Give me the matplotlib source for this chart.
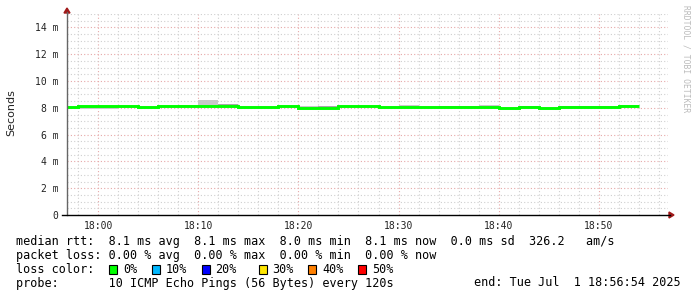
import matplotlib
matplotlib.use("Agg")
import matplotlib.pyplot as plt
from matplotlib.patches import Rectangle, Polygon

# ---------------- data ----------------
step_edges = ["17:56:54", "17:58", "18:00", "18:02", "18:04", "18:06", "18:08", "18:10",
              "18:12", "18:14", "18:16", "18:18", "18:20", "18:22", "18:24", "18:26",
              "18:28", "18:30", "18:32", "18:34", "18:36", "18:38", "18:40", "18:42",
              "18:44", "18:46", "18:48", "18:50", "18:52", "18:54"]
median_ms = [8.03, 8.12, 8.12, 8.12, 8.03, 8.12, 8.12, 8.12, 8.12, 8.03,
             8.03, 8.12, 7.99, 7.99, 8.12, 8.12, 8.05, 8.05, 8.05, 8.05,
             8.05, 8.05, 8.01, 8.08, 7.98, 8.07, 8.07, 8.07, 8.14]
smoke_lo = [8.03, 7.90, 7.90, 8.12, 8.03, 8.12, 8.12, 8.12, 8.12, 8.03,
            8.03, 8.12, 7.99, 7.99, 8.12, 8.12, 8.05, 8.05, 8.05, 8.05,
            8.05, 8.05, 7.93, 8.08, 7.98, 8.07, 8.07, 8.07, 8.14]
smoke_hi = [8.03, 8.12, 8.12, 8.12, 8.03, 8.12, 8.22, 8.55, 8.30, 8.03,
            8.03, 8.12, 8.15, 8.15, 8.12, 8.12, 8.05, 8.22, 8.05, 8.15,
            8.15, 8.20, 8.01, 8.17, 7.98, 8.13, 8.13, 8.13, 8.22]
smoke_dark = [0, 0, 0, 0, 0, 0, 0, 0, 1, 0,
              0, 0, 0, 1, 0, 0, 0, 0, 0, 1,
              0, 0, 0, 1, 0, 0, 0, 0, 0]
x_start, x_end = "17:56:54", "18:56:54"
xtick_labels = ["18:00", "18:10", "18:20", "18:30", "18:40", "18:50"]
ytick_vals = [0, 2, 4, 6, 8, 10, 12, 14]
y_max = 15

stats_rows = [
    "median rtt:  8.1 ms avg  8.1 ms max  8.0 ms min  8.1 ms now  0.0 ms sd  326.2   am/s",
    "packet loss: 0.00 % avg  0.00 % max  0.00 % min  0.00 % now",
]
loss_labels = ["0%", "10%", "20%", "30%", "40%", "50%"]
loss_colors = ["#00ff00", "#00b8ff", "#0000ff", "#ffe600", "#ff8000", "#ff0000"]
probe_text = "probe:       10 ICMP Echo Pings (56 Bytes) every 120s"
end_text = "end: Tue Jul  1 18:56:54 2025"


def to_min(s):
    parts = [int(p) for p in s.split(":")]
    h, m = parts[0], parts[1]
    sec = parts[2] if len(parts) > 2 else 0
    return (h - 18) * 60 + m + sec / 60.0


W, H = 697, 297
fig = plt.figure(figsize=(W / 100, H / 100), dpi=100)
fig.patch.set_facecolor("white")
ax = fig.add_axes([67 / W, (H - 215) / H, 601 / W, 201 / H])
ax.set_facecolor("white")

xs = [to_min(s) for s in step_edges]
x0, x1 = to_min(x_start), to_min(x_end)
ax.set_xlim(x0, x1)
ax.set_ylim(0, y_max)

# grid
minor_col = "#cfcfcf"
major_col = "#e6a8a8"
t = -2
while t < x1:
    if t > x0:
        col = major_col if t % 10 == 0 else minor_col
        ax.axvline(t, color=col, lw=0.8, ls=(0, (1, 2)), zorder=1)
    t += 2
yv = 0.5
while yv <= y_max + 1e-9:
    col = major_col if abs(yv % 2) < 1e-9 else minor_col
    ax.axhline(yv, color=col, lw=0.8, ls=(0, (1, 2)), zorder=1)
    yv += 0.5

# smoke
for i in range(len(median_ms)):
    if smoke_hi[i] > smoke_lo[i]:
        c = "#a8a8a8" if smoke_dark[i] else "#c8c8c8"
        ax.fill_between([xs[i], xs[i + 1]], smoke_lo[i], smoke_hi[i],
                        color=c, lw=0, zorder=2)

# median line
ax.step(xs, median_ms + [median_ms[-1]], where="post", color="#00ff00",
        lw=2.1, zorder=3, solid_joinstyle="miter", solid_capstyle="butt")

# axes
for s in ["top", "right", "left", "bottom"]:
    ax.spines[s].set_visible(False)
ax.set_xticks([to_min(s) for s in xtick_labels])
ax.set_xticklabels(xtick_labels)
ax.set_yticks(ytick_vals)
ax.set_yticklabels(["0" if v == 0 else f"{v} m" for v in ytick_vals])
ax.tick_params(length=0, labelsize=7, colors="#222222", pad=6)
for lab in ax.get_xticklabels() + ax.get_yticklabels():
    lab.set_family("DejaVu Sans Mono")
ax.tick_params(axis="x", pad=4)


def px(x, y):
    return (x / W, 1 - y / H)

fig.add_artist(plt.Line2D([px(67, 0)[0], px(67, 0)[0]], [px(0, 215)[1], px(0, 12)[1]],
                          color="#666666", lw=1.0))
fig.add_artist(plt.Line2D([px(62, 0)[0], px(670, 0)[0]], [px(0, 215)[1], px(0, 215)[1]],
                          color="#000000", lw=1.0))
fig.add_artist(Polygon([px(64, 13), px(70, 13), px(67, 8)], closed=True,
                       color="#a01818", transform=fig.transFigure))
fig.add_artist(Polygon([px(669, 212), px(669, 218), px(674, 215)], closed=True,
                       color="#a01818", transform=fig.transFigure))

# y label
fig.text(11 / W, 1 - 113 / H, "Seconds", rotation=90, ha="center", va="center",
         fontsize=8, color="#222222", family="DejaVu Sans")
# watermark
fig.text(686 / W, 1 - 5 / H, "RRDTOOL / TOBI OETIKER", rotation=-90, ha="center",
         va="top", fontsize=5.8, color="#bbbbbb", family="DejaVu Sans Mono")

# legend / stats
fs = 8.5
mono = "DejaVu Sans Mono"
cw = 7.12
row_y = [241.5, 255.5, 269.5, 283]
for r, txt in enumerate(stats_rows):
    fig.text(16 / W, 1 - row_y[r] / H, txt, ha="left", va="center", fontsize=fs,
             family=mono, color="#000000")
fig.text(16 / W, 1 - row_y[2] / H, "loss color:", ha="left", va="center",
         fontsize=fs, family=mono, color="#000000")
box_idx = [13, 19, 26, 34, 41, 48]
for bi, lab, col in zip(box_idx, loss_labels, loss_colors):
    bx = 16 + bi * cw + 0.5
    fig.add_artist(Rectangle(px(bx, row_y[2] + 4.5), 8 / W, 9 / H, facecolor=col,
                             edgecolor="#000000", lw=0.8, transform=fig.transFigure))
    fig.text((16 + (bi + 2) * cw) / W, 1 - row_y[2] / H, lab, ha="left", va="center",
             fontsize=fs, family=mono, color="#000000")
fig.text(16 / W, 1 - row_y[3] / H, probe_text, ha="left", va="center", fontsize=fs,
         family=mono, color="#000000")
fig.text(681 / W, 1 - row_y[3] / H, end_text, ha="right", va="center", fontsize=fs,
         family=mono, color="#000000")

fig.savefig("out.png", dpi=100, facecolor="white")
